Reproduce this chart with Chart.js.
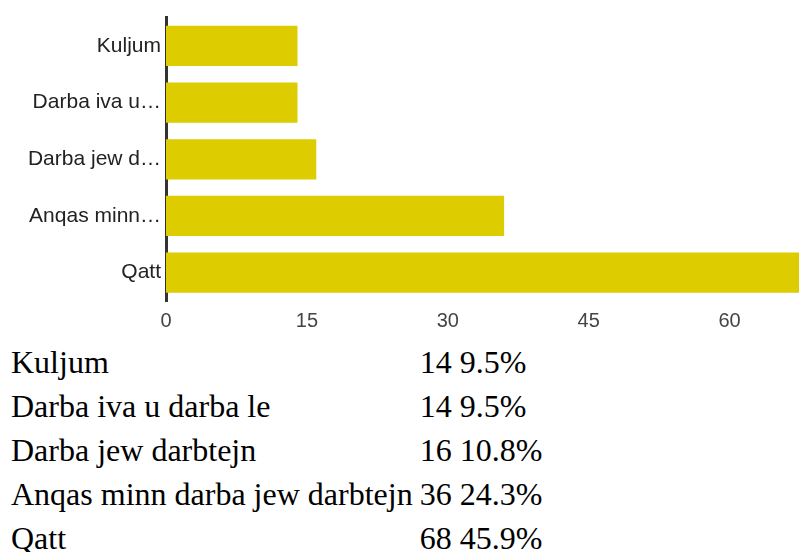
<!DOCTYPE html>
<html lang="mt">
<head>
<meta charset="UTF-8">
<title>Kuljum / Qatt</title>
<script src="https://cdn.jsdelivr.net/npm/chart.js"></script>
<style>
  body { margin: 0; padding: 0; background: #fff; }
  .chart-box { width: 799px; height: 335px; position: relative; }
  table {
    border-collapse: collapse;
    margin: 5px 0 0 11px;
    font-family: 'Liberation Serif', 'Times New Roman', serif;
    font-size: 32px;
    color: #000;
  }
  td { padding: 0 7px 0 0; height: 44px; line-height: 44px; white-space: nowrap; }
</style>
</head>
<body>
<div class="chart-box"><canvas id="chart"></canvas></div>
<table id="summary"></table>

<script>
  const labels = ["Kuljum", "Darba iva u darba le", "Darba jew darbtejn", "Anqas minn darba jew darbtejn", "Qatt"];
  const counts = [14, 14, 16, 36, 68];
  const percents = ["9.5%", "9.5%", "10.8%", "24.3%", "45.9%"];
  const xTicks = [0, 15, 30, 45, 60];

  // table under the chart
  document.getElementById("summary").innerHTML = labels.map((l, i) =>
    `<tr><td>${l}</td><td>${counts[i]} ${percents[i]}</td></tr>`).join("");

  const sans = "Liberation Sans, Arial, sans-serif";

  new Chart(document.getElementById("chart"), {
    type: "bar",
    data: {
      labels: labels,
      datasets: [{
        data: counts,
        backgroundColor: "rgb(220,204,0)",
        barPercentage: 0.71,
        categoryPercentage: 1
      }]
    },
    options: {
      indexAxis: "y",
      responsive: true,
      maintainAspectRatio: false,
      animation: false,
      layout: { padding: { top: 12, right: 0, left: 0, bottom: 0 } },
      plugins: { legend: { display: false }, tooltip: { enabled: false } },
      scales: {
        x: {
          min: 0,
          max: 67.4,
          afterBuildTicks: (axis) => { axis.ticks = xTicks.map(v => ({ value: v })); },
          grid: { display: false, drawTicks: false },
          border: { display: false },
          ticks: { color: "#444", padding: 8, font: { family: sans, size: 20 } },
          afterFit: (axis) => { axis.height = 34; }
        },
        y: {
          grid: { display: false, drawTicks: false },
          border: { display: true, color: "#333", width: 3 },
          ticks: {
            color: "#222",
            padding: 5,
            font: { family: sans, size: 21 },
            callback: function (v) {
              const l = this.getLabelForValue(v);
              return l.length > 12 ? l.slice(0, 11).trim() + "\u2026" : l;
            }
          },
          afterFit: (axis) => { axis.width = 166; }
        }
      }
    }
  });
</script>
</body>
</html>
